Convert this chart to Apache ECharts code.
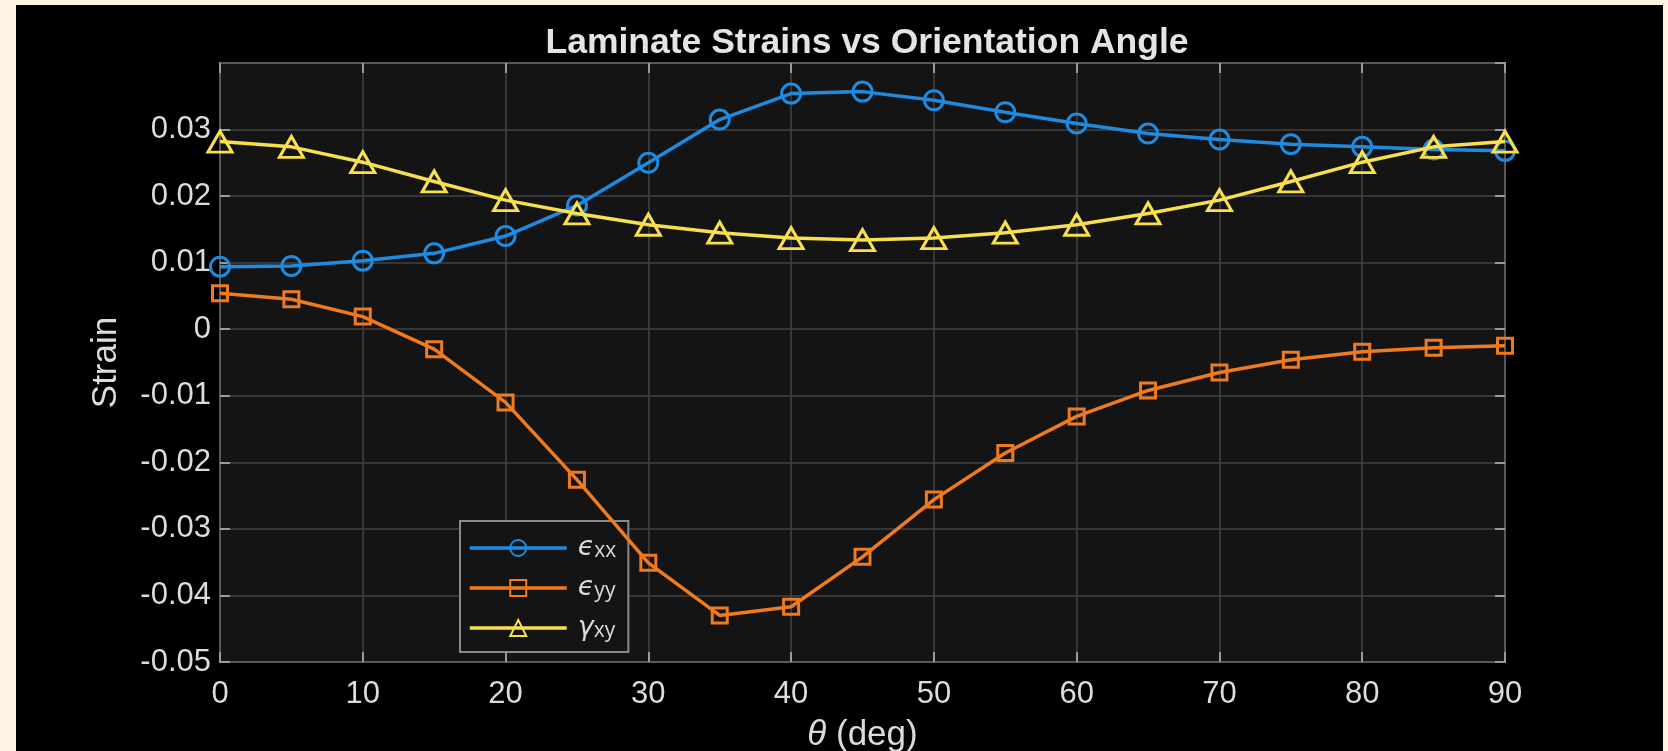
<!DOCTYPE html>
<html>
<head>
<meta charset="utf-8">
<script src="https://cdn.jsdelivr.net/npm/echarts@6/dist/echarts.min.js"></script>
<style>
  html, body { margin: 0; padding: 0; background: #fcf3e3; }
  #panel { position: absolute; left: 16px; top: 5px; width: 1647px; height: 746px; background: #000; }
  #chart { position: absolute; left: 0; top: 0; width: 1668px; height: 751px; }
</style>
</head>
<body>
<div id="panel"></div>
<div id="chart"></div>
<script>
// Ply orientation angle (deg)
const theta = [0, 5, 10, 15, 20, 25, 30, 35, 40, 45, 50, 55, 60, 65, 70, 75, 80, 85, 90];
// Laminate strains at each angle
const epsXX = [0.0094, 0.0095, 0.0103, 0.0114, 0.0140, 0.0186, 0.0250, 0.0315, 0.0354, 0.0357,
               0.0344, 0.0326, 0.0309, 0.0294, 0.0285, 0.0278, 0.0274, 0.0270, 0.0268];
const epsYY = [0.0054, 0.0045, 0.0019, -0.0030, -0.0110, -0.0226, -0.0351, -0.0430, -0.0417, -0.0342,
               -0.0256, -0.0186, -0.0131, -0.0092, -0.0065, -0.0046, -0.0034, -0.0028, -0.0025];
const gammaXY = [0.0282, 0.0274, 0.0251, 0.0222, 0.0194, 0.0174, 0.0157, 0.0145, 0.0137, 0.0134,
                 0.0137, 0.0145, 0.0157, 0.0174, 0.0194, 0.0222, 0.0251, 0.0274, 0.0282];
const seriesNames = ['ϵxx', 'ϵyy', 'γxy'];
const xTicks = { min: 0, max: 90, step: 10 };
const yTicks = { min: -0.05, max: 0.04, step: 0.01 };

const FONT = '"Liberation Sans", Arial, sans-serif';
const TXT = '#dcdcdc';
const FRAME = '#9a9a9a';
const GRID = '#424242';
const colors = ['#1f8be0', '#f07a1e', '#f8df4e'];
const symbols = ['circle', 'rect', 'triangle'];
const sizes = [19, 15, [24, 21]];

const pairs = ys => theta.map((t, i) => [t, ys[i]]);
const fmtY = v => String(parseFloat(v.toFixed(4)));

const chart = echarts.init(document.getElementById('chart'), null, { renderer: 'canvas' });

const mkSeries = (ys, k) => ({
  name: seriesNames[k],
  type: 'line',
  data: pairs(ys),
  xAxisIndex: 0,
  yAxisIndex: 0,
  symbol: symbols[k],
  symbolSize: sizes[k],
  showAllSymbol: true,
  lineStyle: { color: colors[k], width: 3.5 },
  itemStyle: { color: 'rgba(0,0,0,0)', borderColor: colors[k], borderWidth: 3 },
  emphasis: { disabled: true },
  animation: false,
  z: 3 + k
});

const frameTick = { show: true, inside: true, length: 10, lineStyle: { color: FRAME, width: 2 } };

const option = {
  backgroundColor: 'transparent',
  animation: false,
  textStyle: { fontFamily: FONT },
  title: {
    text: 'Laminate Strains vs Orientation Angle',
    left: 862, top: 20, textAlign: 'center',
    textStyle: { color: '#e4e4e4', fontSize: 35.5, fontWeight: 'bold', fontFamily: FONT }
  },
  grid: {
    left: 220, top: 63, width: 1285, height: 599,
    outerBoundsMode: 'none', containLabel: false,
    show: true, backgroundColor: '#141414', borderColor: FRAME, borderWidth: 2
  },
  legend: {
    orient: 'vertical', left: 460, top: 521,
    backgroundColor: '#141414', borderColor: '#8a8a8a', borderWidth: 2,
    padding: [8, 12, 10, 8],
    itemWidth: 97, itemHeight: 20, itemGap: 7,
    selectedMode: false,
    data: seriesNames,
    lineStyle: { width: 3.5 },
    formatter: n => '{g|' + n[0] + '}{s|' + n.slice(1) + '}',
    textStyle: {
      color: TXT,
      padding: [0, 0, 0, 6],
      rich: {
        g: { fontFamily: '"DejaVu Sans", sans-serif', fontStyle: 'italic', fontSize: 27, color: TXT, lineHeight: 28 },
        s: { fontFamily: '"Open Sans", sans-serif', fontSize: 21, color: TXT, verticalAlign: 'bottom', padding: [12, 0, 0, 0], lineHeight: 28 }
      }
    }
  },
  xAxis: [{
    type: 'value', min: xTicks.min, max: xTicks.max, interval: xTicks.step,
    position: 'bottom',
    name: '{i|θ} (deg)', nameLocation: 'middle', nameGap: 56,
    nameTextStyle: {
      color: TXT, fontSize: 35, fontFamily: FONT,
      rich: { i: { fontStyle: 'italic', fontSize: 35, color: TXT, fontFamily: FONT } }
    },
    axisLine: { show: false, onZero: false },
    axisTick: frameTick,
    axisLabel: { color: TXT, fontSize: 31, margin: 17, fontFamily: FONT },
    splitLine: { show: true, lineStyle: { color: GRID, width: 1.5 } }
  }, {
    type: 'value', min: xTicks.min, max: xTicks.max, interval: xTicks.step,
    position: 'top',
    axisLine: { show: false, onZero: false },
    axisTick: frameTick,
    axisLabel: { show: false },
    splitLine: { show: false }
  }],
  yAxis: [{
    type: 'value', min: yTicks.min, max: yTicks.max, interval: yTicks.step,
    position: 'left',
    name: 'Strain', nameLocation: 'middle', nameGap: 96, nameRotate: 90,
    nameTextStyle: { color: TXT, fontSize: 35, fontFamily: FONT },
    axisLine: { show: false, onZero: false },
    axisTick: frameTick,
    axisLabel: { color: TXT, fontSize: 31, margin: 9, fontFamily: FONT, showMaxLabel: false, formatter: fmtY },
    splitLine: { show: true, lineStyle: { color: GRID, width: 1.5 } }
  }, {
    type: 'value', min: yTicks.min, max: yTicks.max, interval: yTicks.step,
    position: 'right',
    axisLine: { show: false, onZero: false },
    axisTick: frameTick,
    axisLabel: { show: false },
    splitLine: { show: false }
  }],
  series: [mkSeries(epsXX, 0), mkSeries(epsYY, 1), mkSeries(gammaXY, 2)]
};

chart.setOption(option);
</script>
</body>
</html>
